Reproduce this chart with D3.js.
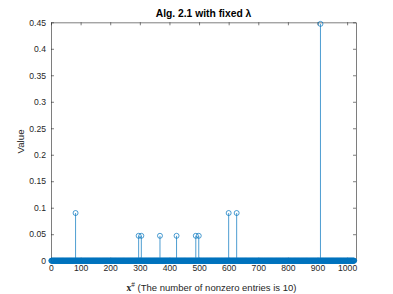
<!DOCTYPE html>
<html>
<head>
<meta charset="utf-8">
<script src="https://cdn.jsdelivr.net/npm/d3@7"></script>
<style>
  html, body { margin: 0; padding: 0; background: #fff; }
  svg { display: block; font-family: "Liberation Sans", Helvetica, Arial, sans-serif; }
</style>
</head>
<body>
<div id="chart"></div>
<script>
// signal length and nonzero entries
const n = 1024;
const nonzeroIdx = [83, 296, 305, 368, 424, 489, 499, 600, 627, 910];
const nonzeroVal = [0.09, 0.047, 0.047, 0.047, 0.047, 0.047, 0.047, 0.09, 0.09, 0.447];
const xTicks = [0, 100, 200, 300, 400, 500, 600, 700, 800, 900, 1000];
const yTicks = [0, 0.05, 0.1, 0.15, 0.2, 0.25, 0.3, 0.35, 0.4, 0.45];
const xLimit = [0, 1030];
const yLimit = [0, 0.45];

// full vector: zero everywhere except the listed entries
const data = d3.range(1, n + 1).map(i => {
    const k = nonzeroIdx.indexOf(i);
    return { i: i, v: k >= 0 ? nonzeroVal[k] : 0 };
});

const width = 393, height = 294;
const margin = { top: 22.3, right: 37, bottom: 33.3, left: 51 };
const blue = "#0072BD", axisCol = "#262626";

const x = d3.scaleLinear().domain(xLimit).range([margin.left, width - margin.right]);
const y = d3.scaleLinear().domain(yLimit).range([height - margin.bottom, margin.top]);

const svg = d3.select("#chart").append("svg")
    .attr("width", width)
    .attr("height", height);

const fmt = d => d3.format("~g")(d);

// axes (ticks inside, like MATLAB)
const tk = 3;
svg.append("g")
    .attr("transform", `translate(0,${height - margin.bottom})`)
    .call(d3.axisBottom(x).tickValues(xTicks).tickFormat(fmt).tickSizeInner(-tk).tickSizeOuter(0).tickPadding(4));
svg.append("g")
    .attr("transform", `translate(0,${margin.top})`)
    .call(d3.axisTop(x).tickValues(xTicks).tickFormat("").tickSizeInner(-tk).tickSizeOuter(0));
svg.append("g")
    .attr("transform", `translate(${margin.left},0)`)
    .call(d3.axisLeft(y).tickValues(yTicks).tickFormat(fmt).tickSizeInner(-tk).tickSizeOuter(0).tickPadding(5));
svg.append("g")
    .attr("transform", `translate(${width - margin.right},0)`)
    .call(d3.axisRight(y).tickValues(yTicks).tickFormat("").tickSizeInner(-tk).tickSizeOuter(0));

svg.selectAll(".domain").attr("stroke", axisCol).attr("stroke-width", 0.6);
svg.selectAll(".tick line").attr("stroke", axisCol).attr("stroke-width", 0.6);
svg.selectAll(".tick text").attr("fill", axisCol).style("font-size", "8.6px");

// stems
svg.append("g")
    .selectAll("line")
    .data(data.filter(d => d.v !== 0))
    .join("line")
    .attr("x1", d => x(d.i)).attr("x2", d => x(d.i))
    .attr("y1", y(0)).attr("y2", d => y(d.v))
    .attr("stroke", blue)
    .attr("stroke-width", 0.7);

// markers
svg.append("g")
    .selectAll("circle")
    .data(data)
    .join("circle")
    .attr("cx", d => x(d.i))
    .attr("cy", d => y(d.v))
    .attr("r", 2.5)
    .attr("fill", "none")
    .attr("stroke", blue)
    .attr("stroke-width", 0.7);

// title and labels
svg.append("text")
    .attr("x", (margin.left + width - margin.right) / 2)
    .attr("y", 17)
    .attr("text-anchor", "middle")
    .style("font-size", "10.3px")
    .style("font-weight", "bold")
    .attr("fill", "#000")
    .text("Alg. 2.1 with fixed λ");

svg.append("text")
    .attr("transform", `translate(23.5,${(margin.top + height - margin.bottom) / 2}) rotate(-90)`)
    .attr("text-anchor", "middle")
    .style("font-size", "9.7px")
    .attr("fill", axisCol)
    .text("Value");

const xl = svg.append("text")
    .attr("x", (margin.left + width - margin.right) / 2 + 8)
    .attr("y", 291)
    .attr("text-anchor", "middle")
    .style("font-size", "9.5px")
    .attr("fill", axisCol);
xl.append("tspan").style("font-weight", "bold").style("font-family", "'Liberation Serif', 'DejaVu Serif', serif").text("x");
xl.append("tspan").attr("dy", -4).style("font-size", "6.5px").text("#");
xl.append("tspan").attr("dy", 4).text(" (The number of nonzero entries is 10)");
</script>
</body>
</html>
